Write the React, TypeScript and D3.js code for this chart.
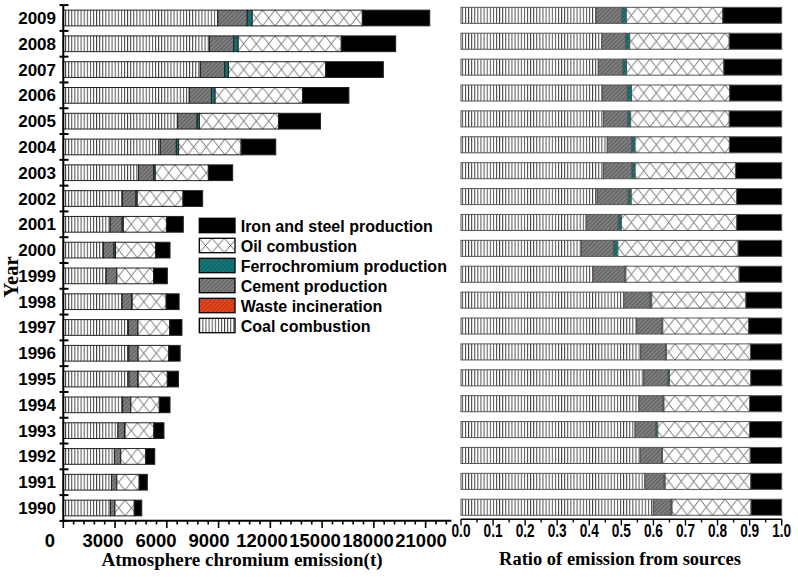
import React from 'react';
import * as d3 from 'd3';

const years = [1990, 1991, 1992, 1993, 1994, 1995, 1996, 1997, 1998, 1999, 2000, 2001, 2002, 2003, 2004, 2005, 2006, 2007, 2008, 2009];
const coalCombustion = [2725, 2790, 2960, 3165, 3430, 3800, 3790, 3765, 3400, 2476, 2315, 2710, 3424, 4352, 5611, 6615, 7294, 7933, 8455, 8937];
const wasteIncineration = [4, 4, 5, 5, 6, 6, 7, 7, 8, 8, 9, 9, 10, 11, 12, 13, 14, 15, 16, 17];
const cementProduction = [250, 290, 350, 375, 460, 500, 520, 535, 550, 598, 615, 690, 777, 871, 929, 1126, 1277, 1410, 1410, 1706];
const ferrochromiumProduction = [14, 15, 16, 35, 19, 33, 20, 21, 34, 18, 87, 70, 76, 98, 133, 134, 215, 214, 255, 290];
const oilCombustion = [1120, 1300, 1450, 1670, 1650, 1690, 1775, 1840, 1970, 2130, 2320, 2500, 2652, 3076, 3621, 4584, 5066, 5629, 5977, 6383];
const ironSteelProduction = [435, 470, 520, 585, 620, 645, 660, 710, 750, 800, 840, 976, 1137, 1410, 2008, 2437, 2687, 3349, 3152, 3906];

const seriesKeys = ['coal', 'waste', 'cement', 'ferro', 'oil', 'iron'];
const legendKeys = ['iron', 'oil', 'ferro', 'cement', 'waste', 'coal'];
const seriesNames: Record<string, string> = {
  iron: 'Iron and steel production',
  oil: 'Oil combustion',
  ferro: 'Ferrochromium production',
  cement: 'Cement production',
  waste: 'Waste incineration',
  coal: 'Coal combustion',
};
const emissionTicks = [0, 3000, 6000, 9000, 12000, 15000, 18000, 21000];
const ratioTicks = [0, 0.1, 0.2, 0.3, 0.4, 0.5, 0.6, 0.7, 0.8, 0.9, 1.0];

const SANS = '"Liberation Sans", Arial, Helvetica, sans-serif';
const SERIF = '"Liberation Serif", "Times New Roman", Times, serif';

export default function App() {
  const rows = years.map((year, i) => ({
    year,
    coal: coalCombustion[i],
    waste: wasteIncineration[i],
    cement: cementProduction[i],
    ferro: ferrochromiumProduction[i],
    oil: oilCombustion[i],
    iron: ironSteelProduction[i],
  }));
  const stackAbs = d3.stack<any>().keys(seriesKeys)(rows);
  const stackRel = d3.stack<any>().keys(seriesKeys).offset(d3.stackOffsetExpand)(rows);

  const yearDomain = [...years].reverse().map(String);

  // left panel scales
  const xL = d3.scaleLinear().domain([0, 22500]).range([63.3, 451.5]);
  const xLabel = d3.scaleLinear().domain([0, 21000]).range([50, 421]);
  const yL = d3.scaleBand<string>().domain(yearDomain).range([5.1, 520.9]).paddingInner(0.39).paddingOuter(0.195);
  // right panel scales
  const xR = d3.scaleLinear().domain([0, 1]).range([461, 781.7]);
  const yR = d3.scaleBand<string>().domain(yearDomain).range([2.4, 520.2]).paddingInner(0.38).paddingOuter(0.19);

  const minorL = d3.range(0, 22500 + 1, 600);
  const minorR = d3.range(0, 1.0001, 0.05);
  const bandBounds = d3.range(0, years.length + 1).map((i) => yL.range()[0] + i * yL.step());

  const fillFor = (key: string, side: string) => {
    if (key === 'iron') return '#000';
    if (key === 'oil') return `url(#oil-${side})`;
    return `url(#${key})`;
  };

  const bars = (stacks: any[], x: any, y: any, side: string, stroke: string) =>
    rows.map((r, i) => (
      <g key={r.year} transform={`translate(0,${y(String(r.year))})`}>
        {stacks.map((s) => {
          const d = s[i];
          const w = x(d[1]) - x(d[0]);
          return (
            <rect
              key={s.key}
              x={x(d[0])}
              y={0}
              width={Math.max(w, 0)}
              height={y.bandwidth()}
              fill={fillFor(s.key, side)}
              stroke={stroke}
              strokeWidth={w > 0.5 ? 1 : 0}
            />
          );
        })}
      </g>
    ));

  const oilPattern = (id: string, h: number) => (
    <pattern id={id} patternUnits="userSpaceOnUse" width={12.5} height={h}>
      <rect width={12.5} height={h} fill="#fff" />
      <line x1={0} y1={0} x2={12.5} y2={h} stroke="#555" strokeWidth={0.9} />
      <line x1={0} y1={h} x2={12.5} y2={0} stroke="#555" strokeWidth={0.9} />
    </pattern>
  );

  const hatch = (id: string, bg: string, fg: string) => (
    <pattern id={id} patternUnits="userSpaceOnUse" width={3} height={3} patternTransform="rotate(45)">
      <rect width={3} height={3} fill={bg} />
      <line x1={0} y1={0} x2={0} y2={3} stroke={fg} strokeWidth={0.9} />
    </pattern>
  );

  return (
    <svg width={798} height={577} style={{ position: 'absolute', left: 0, top: 0, background: '#fff' }}>
      <defs>
        <pattern id="coal" patternUnits="userSpaceOnUse" width={3.1} height={10}>
          <rect width={3.1} height={10} fill="#fff" />
          <line x1={0.5} y1={0} x2={0.5} y2={10} stroke="#333" strokeWidth={0.9} />
        </pattern>
        {hatch('cement', '#7f7f7f', '#333')}
        {hatch('ferro', '#137a7c', '#0a3a3a')}
        {hatch('waste', '#e8461e', '#7a1a00')}
        {oilPattern('oil-L', yL.bandwidth())}
        {oilPattern('oil-R', yR.bandwidth())}
        {oilPattern('oil-G', 14.4)}
      </defs>
      <rect width={798} height={577} fill="#fff" />

      {/* LEFT PANEL */}
      {bars(stackAbs, xL, yL, 'L', '#222')}
      {/* y axis */}
      <line x1={xL(0)} y1={bandBounds[0]} x2={xL(0)} y2={520.7} stroke="#000" strokeWidth={2} />
      {bandBounds.map((b, i) => (
        <line key={i} x1={59.5} y1={b} x2={68.5} y2={b} stroke="#000" strokeWidth={2} />
      ))}
      {yearDomain.map((yr) => (
        <text
          key={yr}
          x={56}
          y={(yL(yr) as number) + yL.bandwidth() / 2 + 6}
          textAnchor="end"
          fontFamily={SANS}
          fontWeight="bold"
          fontSize={17}
        >
          {yr}
        </text>
      ))}
      {/* x axis */}
      <line x1={xL(0)} y1={520.7} x2={xL(22500)} y2={520.7} stroke="#000" strokeWidth={2} />
      {minorL.map((v) => (
        <line key={v} x1={xL(v)} y1={520.7} x2={xL(v)} y2={v % 3000 === 0 ? 528 : 524.5} stroke="#000" strokeWidth={1.6} />
      ))}
      {emissionTicks.map((v) => (
        <text key={v} x={xLabel(v)} y={547} textAnchor="middle" fontFamily={SANS} fontWeight="bold" fontSize={18.5}>
          {v}
        </text>
      ))}
      <text x={242} y={566} textAnchor="middle" fontFamily={SERIF} fontWeight="bold" fontSize={19}>
        Atmosphere chromium emission(t)
      </text>
      <text
        transform="translate(18,277) rotate(-90)"
        textAnchor="middle"
        fontFamily={SERIF}
        fontWeight="bold"
        fontSize={20.5}
      >
        Year
      </text>

      {/* legend */}
      {legendKeys.map((k, i) => (
        <g key={k} transform={`translate(199.3,${218.3 + i * 20})`}>
          <rect
            x={0}
            y={0}
            width={35.7}
            height={14.4}
            fill={k === 'iron' ? '#000' : k === 'oil' ? 'url(#oil-G)' : `url(#${k})`}
            stroke="#000"
            strokeWidth={1.3}
          />
          <text x={41.4} y={13.4} fontFamily={SANS} fontWeight="bold" fontSize={16}>
            {seriesNames[k]}
          </text>
        </g>
      ))}

      {/* RIGHT PANEL */}
      {bars(stackRel, xR, yR, 'R', '#555')}
      <line x1={xR(0)} y1={519.3} x2={xR(1)} y2={519.3} stroke="#000" strokeWidth={1.6} />
      {minorR.map((v, i) => (
        <line key={i} x1={xR(v)} y1={519.3} x2={xR(v)} y2={i % 2 === 0 ? 525.5 : 522.5} stroke="#000" strokeWidth={1.4} />
      ))}
      {ratioTicks.map((v) => (
        <text
          key={v}
          x={xR(v) - 9.5}
          y={536.5}
          textLength={19}
          lengthAdjust="spacingAndGlyphs"
          fontFamily={SANS}
          fontWeight="bold"
          fontSize={19}
        >
          {v.toFixed(1)}
        </text>
      ))}
      <text x={620} y={565} textAnchor="middle" fontFamily={SERIF} fontWeight="bold" fontSize={18.5}>
        Ratio of emission from sources
      </text>
    </svg>
  );
}
